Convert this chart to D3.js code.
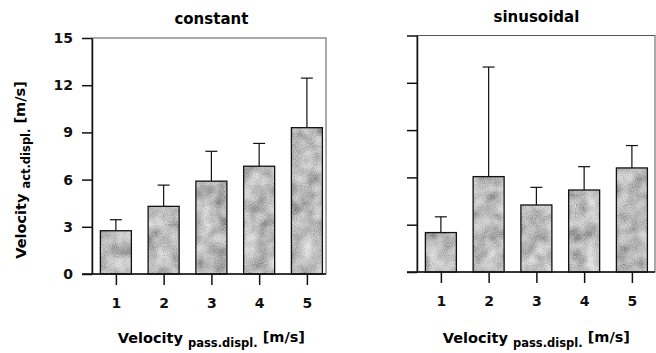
<html>
<head>
<meta charset="utf-8">
<style>
    body {
        margin: 0;
        background-color: #ffffff;
    }
    svg {
        width: 656px;
        height: 353px;
        font-family: "DejaVu Sans", sans-serif;
        font-weight: bold;
    }
    .frame {
        fill: none;
        stroke: #555;
        stroke-width: 1px;
    }
    .axis path, .axis line {
        stroke: #111;
        stroke-width: 1.5px;
    }
    .axis text {
        font-family: "DejaVu Sans", sans-serif;
        font-weight: bold;
        font-size: 14px;
        fill: #111;
    }
    .err {
        stroke: #111;
        stroke-width: 1.2px;
        fill: none;
    }
</style>
</head>
<body>
<script src="https://d3js.org/d3.v7.min.js"></script>
<script>
// data
var categories = [1, 2, 3, 4, 5];
var yTicks = [0, 3, 6, 9, 12, 15];

var constantMean = [2.75, 4.3, 5.9, 6.85, 9.3];
var constantSD   = [0.7, 1.35, 1.9, 1.45, 3.15];

var sinusMean = [2.5, 6.05, 4.25, 5.2, 6.6];
var sinusSD   = [1.0, 6.95, 1.12, 1.48, 1.42];

var svg = d3.select("body").append("svg");

// mottled grey fill like the scanned halftone
var defs = svg.append("defs");
var f = defs.append("filter").attr("id", "mottle")
    .attr("x", 0).attr("y", 0).attr("width", 1).attr("height", 1);
f.append("feTurbulence").attr("type", "fractalNoise").attr("baseFrequency", 0.07)
    .attr("numOctaves", 2).attr("seed", 4).attr("result", "low");
f.append("feTurbulence").attr("type", "fractalNoise").attr("baseFrequency", 0.9)
    .attr("numOctaves", 1).attr("seed", 9).attr("result", "high");
f.append("feComposite").attr("in", "low").attr("in2", "high")
    .attr("operator", "arithmetic").attr("k2", 0.6).attr("k3", 0.4).attr("result", "mix");
f.append("feColorMatrix").attr("in", "mix").attr("type", "matrix")
    .attr("values", "1.2 0 0 0 -0.1  1.2 0 0 0 -0.1  1.2 0 0 0 -0.1  0 0 0 0 1")
    .attr("result", "grey");
f.append("feComposite").attr("in", "grey").attr("in2", "SourceGraphic").attr("operator", "in");

function drawPanel(opt) {
    var x = d3.scaleLinear().domain([0.5, 5.4]).range([opt.left, opt.left + 234]);
    var y = d3.scaleLinear().domain([0, 15]).range([opt.bottom, opt.top]);
    var g = svg.append("g");

    // frame (top + right thin)
    g.append("rect").attr("class", "frame")
        .attr("x", opt.left).attr("y", opt.top)
        .attr("width", opt.right - opt.left).attr("height", opt.bottom - opt.top);

    var bw = 31;
    var data = categories.map(function(c, i) {
        return {c: c, m: opt.mean[i], sd: opt.sd[i]};
    });

    // error bars (upper only)
    g.selectAll(".errline").data(data).enter().append("line")
        .attr("class", "err")
        .attr("x1", function(d) { return x(d.c); })
        .attr("x2", function(d) { return x(d.c); })
        .attr("y1", function(d) { return y(d.m); })
        .attr("y2", function(d) { return y(d.m + d.sd); });
    g.selectAll(".errcap").data(data).enter().append("line")
        .attr("class", "err")
        .attr("x1", function(d) { return x(d.c) - 6; })
        .attr("x2", function(d) { return x(d.c) + 6; })
        .attr("y1", function(d) { return y(d.m + d.sd); })
        .attr("y2", function(d) { return y(d.m + d.sd); });

    // bars
    g.selectAll(".barfill").data(data).enter().append("rect")
        .attr("x", function(d) { return x(d.c) - bw / 2; })
        .attr("y", function(d) { return y(d.m); })
        .attr("width", bw)
        .attr("height", function(d) { return y(0) - y(d.m); })
        .attr("fill", "#a0a0a0")
        .attr("filter", "url(#mottle)");
    g.selectAll(".barline").data(data).enter().append("rect")
        .attr("x", function(d) { return x(d.c) - bw / 2; })
        .attr("y", function(d) { return y(d.m); })
        .attr("width", bw)
        .attr("height", function(d) { return y(0) - y(d.m); })
        .attr("fill", "none")
        .attr("stroke", "#111")
        .attr("stroke-width", 1.3);

    // y axis
    g.append("g").attr("class", "axis")
        .attr("transform", "translate(" + opt.left + ",0)")
        .call(d3.axisLeft(y).tickValues(yTicks).tickSize(10).tickSizeOuter(0).tickPadding(9)
            .tickFormat(opt.labels ? d3.format("d") : ""));

    // x axis
    var xa = g.append("g").attr("class", "axis")
        .attr("transform", "translate(0," + opt.bottom + ")")
        .call(d3.axisBottom(x).tickValues(categories).tickSize(11).tickSizeOuter(0).tickPadding(13)
            .tickFormat(d3.format("d")));
    xa.select(".domain").attr("d", "M" + (opt.left - 10) + ",0H" + opt.right);

    // title
    svg.append("text")
        .attr("x", (x(1) + x(5)) / 2).attr("y", opt.top - 14)
        .attr("text-anchor", "middle")
        .attr("font-size", 15)
        .text(opt.title);

    // x label
    var xl = svg.append("text")
        .attr("x", (x(1) + x(5)) / 2).attr("y", 343)
        .attr("text-anchor", "middle")
        .attr("font-size", 14.5);
    xl.append("tspan").text("Velocity ");
    xl.append("tspan").attr("font-size", 11.5).attr("dy", 4).text("pass.displ.");
    xl.append("tspan").attr("dy", -5).text(" [m/s]");
}

drawPanel({left: 92, right: 326, top: 38, bottom: 274, title: "constant",
    mean: constantMean, sd: constantSD, labels: true});
drawPanel({left: 417, right: 655, top: 35.5, bottom: 272, title: "sinusoidal",
    mean: sinusMean, sd: sinusSD, labels: false});

// y axis title
var yl = svg.append("text")
    .attr("transform", "translate(26,170)rotate(-90)")
    .attr("text-anchor", "middle")
    .attr("font-size", 14.5);
yl.append("tspan").text("Velocity ");
yl.append("tspan").attr("font-size", 11.5).attr("dy", 4).text("act.displ.");
yl.append("tspan").attr("dy", -5).text(" [m/s]");
</script>
</body>
</html>
